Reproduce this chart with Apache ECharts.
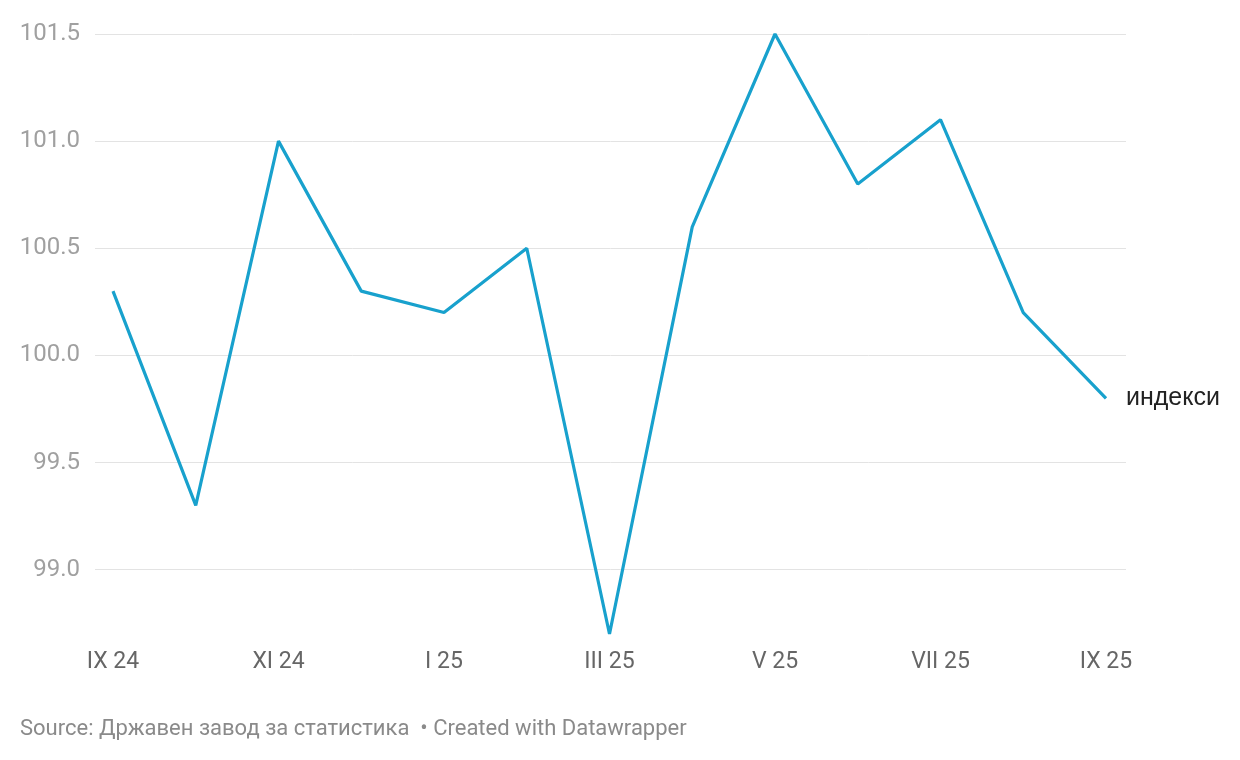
<!DOCTYPE html>
<html><head><meta charset="utf-8">
<script src="https://cdn.jsdelivr.net/npm/echarts@6/dist/echarts.min.js"></script>
<style>html,body{margin:0;padding:0;background:#fff}#c{width:1240px;height:760px}</style>
</head><body><div id="c"></div>
<script>
var categories = ['IX 24','X 24','XI 24','XII 24','I 25','II 25','III 25','IV 25','V 25','VI 25','VII 25','VIII 25','IX 25'];
var values = [100.3, 99.3, 101.0, 100.3, 100.2, 100.5, 98.7, 100.6, 101.5, 100.8, 101.1, 100.2, 99.8];
var xTickIdx = [0, 2, 4, 6, 8, 10, 12];
var yTicks = [99.0, 99.5, 100.0, 100.5, 101.0, 101.5];
var seriesName = 'индекси';
var footer = 'Source: Државен завод за статистика  • Created with Datawrapper';

var chart = echarts.init(document.getElementById('c'));
chart.setOption({
  animation: false,
  grid: {left: 95, right: 114, top: 34, bottom: 126},
  xAxis: {
    type: 'value', min: -0.2175, max: 12.2417,
    axisLine: {show: false}, axisTick: {show: false}, splitLine: {show: false},
    axisLabel: {customValues: xTickIdx, formatter: function(v){ return categories[Math.round(v)]; },
      color: '#666', fontSize: 23, fontFamily: 'Roboto', margin: 17}
  },
  yAxis: {
    type: 'value', min: 98.7, max: 101.5,
    axisLine: {show: false},
    axisTick: {show: false, customValues: yTicks},
    splitLine: {show: true, lineStyle: {color: '#e3e3e3', width: 1}},
    axisLabel: {customValues: yTicks, formatter: function(v){ return v.toFixed(1); },
      color: '#a0a0a0', fontSize: 24, fontFamily: 'Roboto', margin: 15}
  },
  series: [{
    type: 'line', name: seriesName,
    data: values.map(function(v, i){ return [i, v]; }),
    showSymbol: false, symbol: 'none',
    lineStyle: {color: '#18a1cd', width: 3.2},
    itemStyle: {color: '#18a1cd'},
    endLabel: {show: true, formatter: seriesName, color: '#222', fontSize: 25,
      fontFamily: 'Liberation Sans', distance: 20}
  }],
  graphic: [{
    type: 'text', left: 20, top: 718,
    style: {text: footer, fill: '#8a8a8a', fontSize: 22, fontFamily: 'Roboto'}
  }]
});
</script></body></html>
